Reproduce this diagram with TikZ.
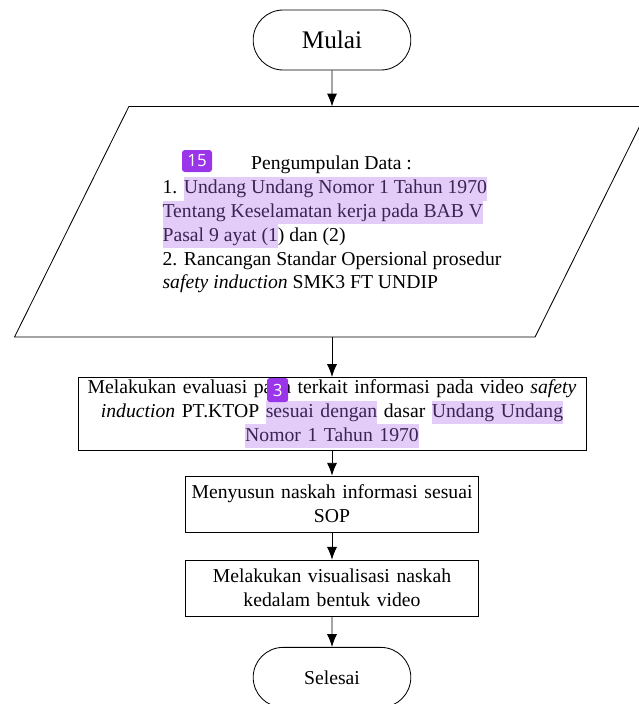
\documentclass[tikz,border=0pt]{standalone}
\usepackage{fontspec}
\setmainfont{Liberation Serif}
\newfontfamily\badgefont{Open Sans}
\usetikzlibrary{shapes,arrows,arrows.meta,positioning}

\definecolor{hlpurple}{HTML}{E4CCF8}
\definecolor{hltext}{HTML}{3A2456}
\definecolor{badgepurple}{HTML}{9B35EA}
\newcommand{\hlword}[1]{{\setlength{\fboxsep}{0pt}\colorbox{hlpurple}{\strut\color{hltext}#1}}}

\begin{document}
\begin{tikzpicture}[node distance=0.8cm,
  every node/.style={font=\fontsize{14}{17}\selectfont},
  terminal/.style={rounded rectangle, draw, line width=0.6pt, minimum width=4.175cm, minimum height=1.5cm},
  process/.style={rectangle, draw, line width=0.6pt, align=center, inner xsep=0.1cm, inner ysep=1.5pt},
  dataio/.style={rectangle, minimum width=13cm, minimum height=5.75cm},
  badge/.style={rectangle, rounded corners=2pt, fill=badgepurple, text=white, inner sep=1pt, minimum height=0.55cm, minimum width=0.53cm, font=\badgefont\fontsize{12}{14}\selectfont},
  flowline/.style={line width=0.6pt, -{Latex[length=3.2mm,width=2.5mm]}}]
\useasboundingbox (0,0) rectangle (15.975,-17.6);

\node (mulai) [terminal, font=\fontsize{18}{21}\selectfont] at (8.3,-1.0) {Mulai};
\node (data) [dataio, below=0.9cm of mulai] {};
\draw [line width=0.6pt] ([xshift=-1.43cm]data.south west) -- ([xshift=1.43cm]data.north west)
  -- ([xshift=1.43cm]data.north east) -- ([xshift=-1.43cm]data.south east) -- cycle;
\node (datatext) [align=left] at ([yshift=-0.07cm]data.center) {\makebox[8.45cm]{Pengumpulan Data :}\\
  1. \hlword{Undang Undang Nomor 1 Tahun 1970}\\
  \hlword{Tentang Keselamatan kerja pada BAB V}\\
  \hlword{Pasal 9 ayat (1}) dan (2)\\
  2. Rancangan Standar Opersional prosedur\\
  \textit{safety induction} SMK3 FT UNDIP};
\node (evaluasi) [process, text width=12.5cm, minimum height=1.725cm, below=1.0cm of data] {Melakukan evaluasi pada terkait informasi pada video \textit{safety}\\
  \textit{induction} PT.KTOP \hlword{sesuai dengan} dasar \hlword{Undang Undang}\\
  \hlword{Nomor 1 Tahun 1970}};
\node (naskah) [process, text width=7.125cm, minimum height=1.4cm, below=0.62cm of evaluasi] {Menyusun naskah informasi sesuai\\ SOP};
\node (visual) [process, text width=7.125cm, minimum height=1.4cm, below=0.68cm of naskah] {Melakukan visualisasi naskah\\ kedalam bentuk video};
\node (selesai) [terminal, below=0.76cm of visual] {Selesai};

% penanda
\node (badgea) [badge, minimum width=0.75cm] at (4.925,-4.025) {15};
\node (badgeb) [badge, minimum height=0.6cm] at (6.94,-9.75) {3};

\draw [flowline] (mulai) -- (data);
\draw [flowline] (data) -- (evaluasi);
\draw [flowline] (evaluasi) -- (naskah);
\draw [flowline] (naskah) -- (visual);
\draw [flowline] (visual) -- (selesai);
\end{tikzpicture}
\end{document}
